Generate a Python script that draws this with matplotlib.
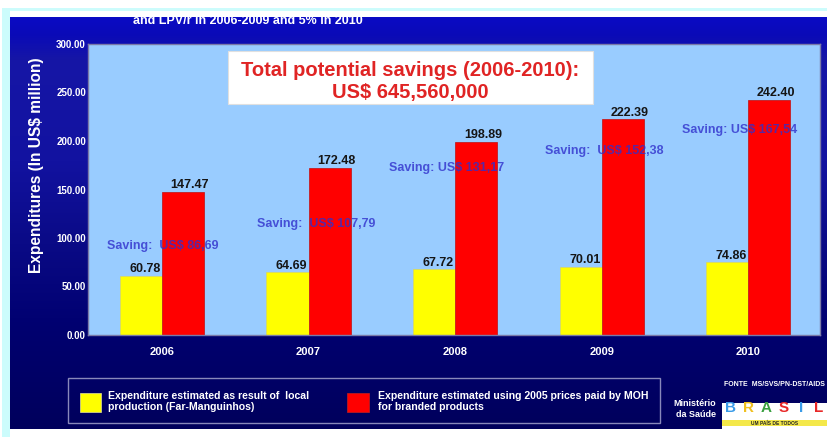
import numpy as np
import matplotlib
matplotlib.use("Agg")
import matplotlib.pyplot as plt
from matplotlib.patches import Rectangle
from matplotlib.colors import LinearSegmentedColormap

plt.rcParams['font.family'] = ['Liberation Sans', 'DejaVu Sans']
plt.rcParams['font.weight'] = 'bold'

# ---- data (US$ million) ----
years = ["2006", "2007", "2008", "2009", "2010"]
local_production = [60.78, 64.69, 67.72, 70.01, 74.86]
branded_prices = [147.47, 172.48, 198.89, 222.39, 242.40]
yticks = [0, 50, 100, 150, 200, 250, 300]

total_title = "Total potential savings (2006-2010):\nUS$ 645,560,000"
top_caption = "and LPV/r in 2006-2009 and 5% in 2010"
legend_local = "Expenditure estimated as result of  local\nproduction (Far-Manguinhos)"
legend_branded = "Expenditure estimated using 2005 prices paid by MOH\nfor branded products"
source_note = "FONTE  MS/SVS/PN-DST/AIDS"

# anchor (x in category units, y in axis units) for each saving label
saving_anchor = [(-0.375, 92), (0.648, 114), (1.549, 172), (2.614, 190), (3.549, 211)]
saving_prefix = ["Saving:  US$ ", "Saving:  US$ ", "Saving: US$ ", "Saving:  US$ ", "Saving: US$ "]

W, H = 828, 437
fig = plt.figure(figsize=(W / 100, H / 100), dpi=100, facecolor="white")


def fx(x):
    return x / W


def fy(y):
    return 1 - y / H


# ---- slide background: vertical blue gradient ----
bg = fig.add_axes([fx(10), fy(429), fx(818), (429 - 17) / H], zorder=-5)
stops = [(0.0, "#0b0bc4"), (0.04, "#0a0ab8"), (0.10, "#1616a6"), (0.35, "#1212a0"),
         (0.55, "#0a0a86"), (0.75, "#000070"), (1.0, "#00005c")]
cmap = LinearSegmentedColormap.from_list("slide", stops)
grad = np.linspace(0, 1, 256).reshape(-1, 1)
bg.imshow(grad, aspect="auto", cmap=cmap, extent=[0, 1, 1, 0])
bg.set_xlim(0, 1)
bg.set_ylim(1, 0)
bg.axis("off")

# ---- chart ----
ax = fig.add_axes([fx(88), fy(335), (820 - 88) / W, (335 - 44) / H], zorder=0)
ax.set_facecolor("#99ccff")
x = np.arange(len(years))
w = 0.287
b1 = ax.bar(x - w / 2, local_production, w, color="#ffff00", edgecolor="#d8d860", linewidth=0.5,
            label=legend_local, zorder=2)
b2 = ax.bar(x + w / 2, branded_prices, w, color="#ff0000", edgecolor="#c01010", linewidth=0.5,
            label=legend_branded, zorder=2)

ax.set_xlim(-0.505, 4.49)
ax.set_ylim(0, 300)
ax.set_yticks(yticks)
ax.set_yticklabels([f"{t:.2f}" for t in yticks])
ax.set_xticks(x)
ax.set_xticklabels(years)
ax.tick_params(axis="y", length=0, pad=1.5, labelsize=7, labelcolor="white")
ax.tick_params(axis="x", length=0, pad=8.5, labelsize=8, labelcolor="white")
for lab in ax.get_xticklabels() + ax.get_yticklabels():
    lab.set_fontweight("bold")
for s in ax.spines.values():
    s.set_color("#7a7aa8")
    s.set_linewidth(1.0)

ax.set_ylabel("Expenditures (In US$ million)", color="white", fontsize=11.2,
              fontweight="bold", labelpad=4)
ax.yaxis.set_label_coords(-0.060, 0.584)

# value labels
for xi, v in zip(x, local_production):
    ax.annotate(f"{v:.2f}", xy=(xi - w / 2, v), xytext=(3, 0.5), textcoords="offset points",
                ha="center", va="bottom", fontsize=9, fontweight="bold", color="#151515", zorder=4)
for xi, v in zip(x, branded_prices):
    ax.annotate(f"{v:.2f}", xy=(xi + w / 2, v), xytext=(5, 0.5), textcoords="offset points",
                ha="center", va="bottom", fontsize=9, fontweight="bold", color="#151515", zorder=4)

# saving labels
for (sx, sy), pre, lo, hi in zip(saving_anchor, saving_prefix, local_production, branded_prices):
    saving = f"{hi - lo:.2f}".replace(".", ",")
    ax.text(sx, sy, pre + saving, ha="left", va="center", fontsize=9, fontweight="bold",
            color="#3030cc", alpha=0.8, zorder=5)

# total savings box
ax.add_patch(Rectangle((0.191, 0.794), 0.499, 0.182, transform=ax.transAxes,
                       facecolor="white", edgecolor="#e0e0e0", linewidth=0.8, zorder=6))
ax.text(0.44, 0.872, total_title, transform=ax.transAxes, ha="center", va="center",
        fontsize=14.5, fontweight="bold", color="#e02424", linespacing=1.2, zorder=7)

# ---- top caption (partly hidden under the slide frame) ----
fig.text(fx(133), fy(23.5), top_caption, ha="left", va="baseline", fontsize=9,
         fontweight="bold", color="white", zorder=1)

# ---- slide frame ----
fig.add_artist(Rectangle((0, fy(17)), 1, 17 / H, transform=fig.transFigure,
                         facecolor="white", edgecolor="none", zorder=8))
fig.add_artist(Rectangle((fx(2), fy(11)), 1, 3 / H, transform=fig.transFigure,
                         facecolor="#ccfcfc", edgecolor="none", zorder=9))
fig.add_artist(Rectangle((fx(2), 0), 8 / W, fy(8), transform=fig.transFigure,
                         facecolor="#ccfcfc", edgecolor="none", zorder=9))

# ---- legend ----
fig.add_artist(Rectangle((fx(68), fy(423)), (660 - 68) / W, 45 / H, transform=fig.transFigure,
                         facecolor="none", edgecolor="#8888bb", linewidth=1.0, zorder=3))
fig.add_artist(Rectangle((fx(80), fy(412)), 21 / W, 19 / H, transform=fig.transFigure,
                         facecolor="#ffff00", edgecolor="#e0e0a0", linewidth=0.5, zorder=3))
fig.add_artist(Rectangle((fx(347), fy(412)), 22 / W, 19 / H, transform=fig.transFigure,
                         facecolor="#ff0000", edgecolor="#c02020", linewidth=0.5, zorder=3))
fig.text(fx(108), fy(401.5), legend_local, ha="left", va="center", fontsize=7.6,
         fontweight="bold", color="white", linespacing=1.2, zorder=3)
fig.text(fx(378), fy(401.5), legend_branded, ha="left", va="center", fontsize=7.6,
         fontweight="bold", color="white", linespacing=1.2, zorder=3)

# ---- source and ministry mark ----
fig.text(fx(825), fy(384), source_note, ha="right", va="center", fontsize=5,
         fontweight="bold", color="white", zorder=3)
fig.text(fx(716), fy(409), "Ministério\nda Saúde", ha="right", va="center", fontsize=6.5,
         fontweight="bold", color="white", linespacing=1.2, zorder=3)
fig.add_artist(Rectangle((fx(722), fy(429)), (828 - 722) / W, 26 / H, transform=fig.transFigure,
                         facecolor="white", edgecolor="none", zorder=3))
fig.add_artist(Rectangle((fx(722), fy(426)), (828 - 722) / W, 6 / H, transform=fig.transFigure,
                         facecolor="#f4e84a", edgecolor="none", zorder=3))
brand_colors = ["#3a9be8", "#f0c020", "#3aa040", "#e82828", "#3a9be8", "#e82828"]
for i, (ch, c) in enumerate(zip("BRASIL", brand_colors)):
    fig.text(fx(731 + i * 17.5), fy(411.5), ch, ha="center", va="baseline", fontsize=11,
             fontweight="bold", color=c, zorder=4)
fig.text(fx(775), fy(423), "UM PAÍS DE TODOS", ha="center", va="center", fontsize=3.5,
         fontweight="bold", color="#222222", zorder=4)

fig.savefig("out.png", dpi=100, facecolor=fig.get_facecolor())
